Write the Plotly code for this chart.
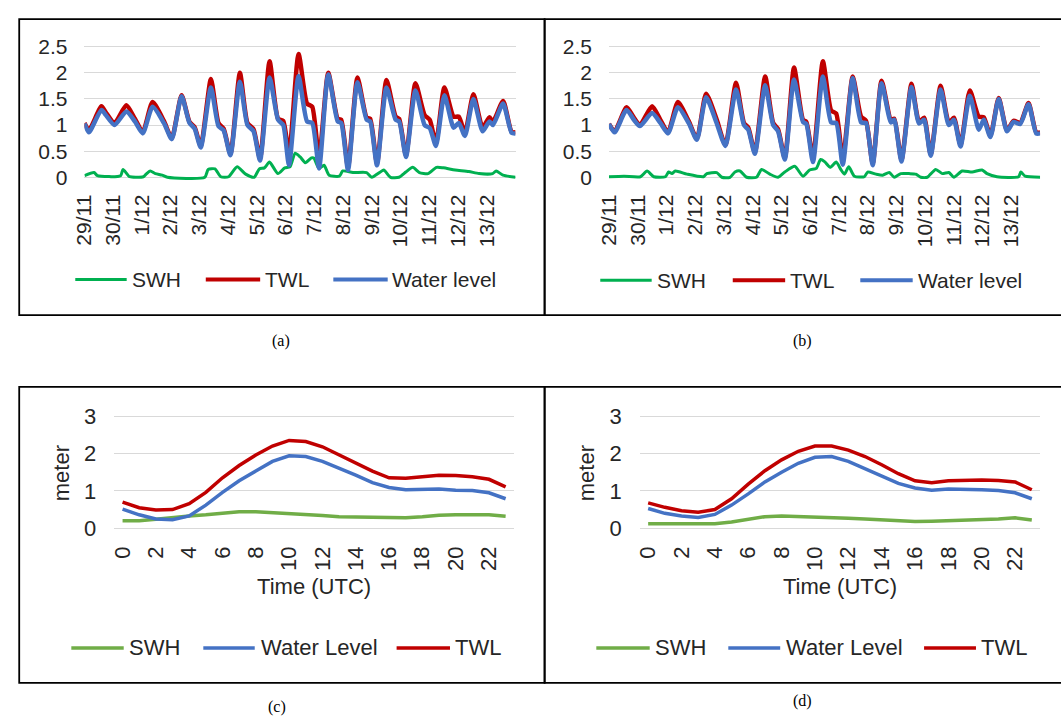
import plotly.graph_objects as go

W, H = 1061, 728

# ---------------- data ----------------
day_labels = ["29/11", "30/11", "1/12", "2/12", "3/12", "4/12", "5/12", "6/12",
              "7/12", "8/12", "9/12", "10/12", "11/12", "12/12", "13/12"]

# panel (a): hours since 29/11 00:00
a_hours = [0, 3.7, 14.2, 17.9, 25.1, 35.0, 42.1, 48.7, 56.9, 66.3,
           72.9, 81.1, 87.7, 92.0, 97.1, 105.6, 111.9, 116.2, 121.9, 129.8,
           136.1, 141.2, 146.6, 154.6, 161.7, 166.0, 170.8, 178.8, 185.9, 190.2,
           195.9, 203.6, 211.5, 214.4, 220.1, 228.0, 235.7, 238.6, 244.3, 252.2,
           259.9, 262.8, 268.5, 276.4, 284.1, 288.4, 293.5, 300.6, 308.3, 312.6,
           317.7, 324.8, 332.5, 338.2, 341.1, 349.6, 356.7, 360.0]
a_wl = [1.03, 0.86, 1.29, 1.19, 1.0, 1.26, 1.07, 0.84, 1.35, 1.04,
        0.73, 1.55, 1.04, 0.93, 0.57, 1.72, 0.98, 0.9, 0.42, 1.83,
        1.0, 0.88, 0.32, 1.91, 1.1, 1.0, 0.23, 1.94, 1.07, 1.04,
        0.17, 1.97, 1.07, 1.04, 0.14, 1.82, 1.1, 1.07, 0.23, 1.72,
        1.1, 1.07, 0.39, 1.66, 1.0, 0.94, 0.6, 1.57, 0.95, 1.04,
        0.79, 1.5, 0.88, 1.07, 1.0, 1.41, 0.85, 0.84]
a_twl = [1.04, 0.9, 1.36, 1.24, 1.04, 1.38, 1.12, 0.87, 1.44, 1.08,
         0.75, 1.57, 1.06, 0.96, 0.6, 1.88, 1.04, 0.93, 0.45, 2.0,
         1.04, 0.92, 0.36, 2.22, 1.12, 1.08, 0.45, 2.36, 1.41, 1.35,
         0.38, 2.0, 1.12, 1.1, 0.2, 1.91, 1.14, 1.12, 0.27, 1.86,
         1.16, 1.12, 0.42, 1.8, 1.19, 1.1, 0.65, 1.72, 1.16, 1.16,
         0.85, 1.59, 0.95, 1.15, 1.06, 1.46, 0.87, 0.86]
a_swh_hours = [0, 8.0, 10.8, 30.2, 32.2, 37.8, 49.2, 51.5, 54.9, 59.2,
               64.9, 69.2, 100.5, 103.3, 109.0, 113.8, 120.4, 127.5, 134.6, 141.7,
               146.0, 150.3, 154.5, 161.6, 167.3, 171.6, 175.9, 180.1, 184.4, 189.5,
               191.5, 195.8, 200.1, 204.3, 212.9, 215.7, 224.2, 235.6, 239.9, 247.0,
               249.9, 255.5, 262.7, 268.4, 274.1, 279.7, 286.9, 294.0, 299.7, 309.6,
               321.0, 329.5, 340.9, 343.8, 349.5, 360.0]
a_swh = [0.03, 0.09, 0.03, 0.03, 0.15, 0.01, 0.01, 0.06, 0.12, 0.07,
         0.04, 0.0, 0.0, 0.15, 0.16, 0.01, 0.01, 0.2, 0.06, 0.0,
         0.16, 0.18, 0.29, 0.07, 0.18, 0.2, 0.46, 0.39, 0.28, 0.37,
         0.37, 0.17, 0.23, 0.04, 0.02, 0.12, 0.09, 0.09, 0.0, 0.1,
         0.14, 0.0, 0.0, 0.1, 0.19, 0.09, 0.07, 0.19, 0.18, 0.14,
         0.11, 0.07, 0.07, 0.12, 0.04, 0.0]

# panel (b)
b_hours = [0, 4.7, 14.7, 20.8, 25.8, 36.0, 42.9, 49.3, 57.6, 66.5,
           73.4, 81.1, 90.0, 97.2, 106.1, 112.7, 116.3, 121.8, 130.4, 137.1,
           141.2, 146.8, 154.5, 162.0, 164.8, 170.3, 178.6, 185.5, 189.7, 195.2,
           203.5, 210.5, 214.6, 220.2, 227.6, 235.4, 238.2, 244.2, 252.6, 258.9,
           263.1, 268.6, 276.9, 283.8, 288.0, 293.5, 301.3, 308.8, 312.9, 318.5,
           325.4, 332.3, 337.8, 343.4, 350.3, 356.7, 360.0]
b_wl = [1.02, 0.86, 1.29, 1.1, 0.98, 1.23, 1.04, 0.84, 1.34, 1.04,
        0.72, 1.53, 1.03, 0.6, 1.68, 1.0, 0.91, 0.45, 1.76, 1.0,
        0.88, 0.34, 1.87, 1.06, 1.02, 0.29, 1.93, 1.05, 1.04, 0.24,
        1.9, 1.05, 1.04, 0.23, 1.8, 1.05, 1.1, 0.3, 1.73, 1.03,
        1.1, 0.41, 1.68, 1.0, 1.1, 0.59, 1.56, 0.91, 1.1, 0.77,
        1.5, 0.88, 1.06, 1.02, 1.4, 0.84, 0.84]
b_twl = [1.02, 0.88, 1.34, 1.14, 1.0, 1.36, 1.1, 0.86, 1.44, 1.08,
         0.74, 1.6, 1.1, 0.62, 1.81, 1.04, 0.95, 0.48, 1.93, 1.04,
         0.92, 0.37, 2.1, 1.1, 1.06, 0.38, 2.22, 1.28, 1.22, 0.35,
         1.93, 1.16, 1.08, 0.26, 1.85, 1.1, 1.12, 0.33, 1.79, 1.06,
         1.14, 0.44, 1.75, 1.04, 1.14, 0.62, 1.66, 1.16, 1.15, 0.8,
         1.52, 0.9, 1.08, 1.04, 1.42, 0.86, 0.86]
b_swh_hours = [0, 12.5, 26.3, 31.8, 37.4, 47.1, 49.8, 52.6, 55.4, 65.1,
               78.9, 81.7, 90.0, 94.2, 101.1, 105.2, 109.4, 114.9, 123.2, 127.4,
               134.3, 141.2, 146.8, 155.1, 162.0, 167.5, 173.1, 176.7, 180.0, 184.7,
               189.7, 193.8, 196.6, 200.2, 204.9, 213.2, 216.0, 222.9, 228.5, 234.0,
               238.2, 243.7, 250.6, 256.2, 260.3, 265.8, 272.8, 278.3, 283.8, 288.0,
               294.9, 303.2, 311.5, 315.7, 324.0, 342.0, 343.9, 347.5, 360.0]
b_swh = [0.01, 0.02, 0.01, 0.12, 0.01, 0.01, 0.1, 0.07, 0.12, 0.06,
         0.01, 0.07, 0.09, 0.0, 0.0, 0.1, 0.12, 0.0, 0.0, 0.15,
         0.06, 0.0, 0.1, 0.21, 0.02, 0.14, 0.17, 0.34, 0.3, 0.19,
         0.29, 0.14, 0.06, 0.2, 0.02, 0.01, 0.1, 0.06, 0.04, 0.09,
         0.0, 0.07, 0.07, 0.06, 0.0, 0.0, 0.15, 0.07, 0.09, 0.0,
         0.12, 0.1, 0.14, 0.07, 0.01, 0.01, 0.1, 0.02, 0.0]

# panels (c) and (d): hourly, 0..23 UTC
utc_hours = list(range(24))
utc_tick_labels = ["0", "2", "4", "6", "8", "10", "12", "14", "16", "18", "20", "22"]
c_swh = [0.2, 0.2, 0.24, 0.29, 0.33, 0.36, 0.4, 0.44, 0.44, 0.42, 0.4, 0.37,
         0.34, 0.31, 0.3, 0.28, 0.27, 0.28, 0.31, 0.35, 0.36, 0.36, 0.36, 0.32]
c_wl = [0.51, 0.36, 0.25, 0.23, 0.33, 0.62, 0.96, 1.27, 1.53, 1.79, 1.94, 1.92,
        1.79, 1.61, 1.42, 1.22, 1.09, 1.03, 1.05, 1.05, 1.02, 1.01, 0.95, 0.79]
c_twl = [0.7, 0.55, 0.49, 0.5, 0.66, 0.96, 1.35, 1.68, 1.96, 2.2, 2.35, 2.32,
         2.18, 1.96, 1.74, 1.53, 1.35, 1.34, 1.38, 1.42, 1.41, 1.38, 1.31, 1.11]
d_swh = [0.12, 0.12, 0.12, 0.12, 0.12, 0.17, 0.24, 0.31, 0.33, 0.32, 0.3, 0.29,
         0.27, 0.25, 0.23, 0.2, 0.18, 0.19, 0.2, 0.23, 0.24, 0.25, 0.28, 0.22]
d_wl = [0.53, 0.4, 0.33, 0.29, 0.37, 0.62, 0.92, 1.24, 1.5, 1.74, 1.9, 1.92,
        1.79, 1.6, 1.4, 1.2, 1.08, 1.02, 1.05, 1.05, 1.03, 1.01, 0.95, 0.79]
d_twl = [0.68, 0.56, 0.47, 0.43, 0.5, 0.79, 1.18, 1.54, 1.83, 2.06, 2.2, 2.2,
         2.09, 1.92, 1.7, 1.46, 1.27, 1.22, 1.27, 1.29, 1.29, 1.28, 1.24, 1.03]

# ---------------- styles ----------------
GREEN_TOP = "#00B050"
GREEN_BOT = "#70AD47"
RED = "#C00000"
BLUE = "#4472C4"
GRID = "#D9D9D9"
TXT = "#262626"
FONT = "Liberation Sans, Arial, sans-serif"
TOP_FS = 21
BOT_FS = 22


def px(x):
    return x / W


def py(y):
    return 1 - y / H


fig = go.Figure()

spl = dict(shape="spline", smoothing=0.6)
# (a)
fig.add_trace(go.Scatter(x=a_swh_hours, y=a_swh, name="SWH", xaxis="x", yaxis="y",
                         mode="lines", line=dict(color=GREEN_TOP, width=3, **spl)))
fig.add_trace(go.Scatter(x=a_hours, y=a_twl, name="TWL", xaxis="x", yaxis="y",
                         mode="lines", line=dict(color=RED, width=4.5, **spl)))
fig.add_trace(go.Scatter(x=a_hours, y=a_wl, name="Water level", xaxis="x", yaxis="y",
                         mode="lines", line=dict(color=BLUE, width=4.5, **spl)))
# (b)
fig.add_trace(go.Scatter(x=b_swh_hours, y=b_swh, name="SWH", xaxis="x2", yaxis="y2",
                         mode="lines", line=dict(color=GREEN_TOP, width=3, **spl)))
fig.add_trace(go.Scatter(x=b_hours, y=b_twl, name="TWL", xaxis="x2", yaxis="y2",
                         mode="lines", line=dict(color=RED, width=4.5, **spl)))
fig.add_trace(go.Scatter(x=b_hours, y=b_wl, name="Water level", xaxis="x2", yaxis="y2",
                         mode="lines", line=dict(color=BLUE, width=4.5, **spl)))
# (c)
fig.add_trace(go.Scatter(x=utc_hours, y=c_swh, name="SWH", xaxis="x3", yaxis="y3",
                         mode="lines", line=dict(color=GREEN_BOT, width=3.5)))
fig.add_trace(go.Scatter(x=utc_hours, y=c_wl, name="Water Level", xaxis="x3", yaxis="y3",
                         mode="lines", line=dict(color=BLUE, width=3.5)))
fig.add_trace(go.Scatter(x=utc_hours, y=c_twl, name="TWL", xaxis="x3", yaxis="y3",
                         mode="lines", line=dict(color=RED, width=3.5)))
# (d)
fig.add_trace(go.Scatter(x=utc_hours, y=d_swh, name="SWH", xaxis="x4", yaxis="y4",
                         mode="lines", line=dict(color=GREEN_BOT, width=3.5)))
fig.add_trace(go.Scatter(x=utc_hours, y=d_wl, name="Water Level", xaxis="x4", yaxis="y4",
                         mode="lines", line=dict(color=BLUE, width=3.5)))
fig.add_trace(go.Scatter(x=utc_hours, y=d_twl, name="TWL", xaxis="x4", yaxis="y4",
                         mode="lines", line=dict(color=RED, width=3.5)))

# ---------------- axes ----------------
TOP_Y = (35.0, 177.1)      # px top/bottom of upper plot areas
BOT_Y = (415.1, 536.0)     # px top/bottom of lower plot areas
top_tickfont = dict(family=FONT, size=TOP_FS, color=TXT)
bot_tickfont = dict(family=FONT, size=BOT_FS, color=TXT)
day_ticks = [i * 24 for i in range(len(day_labels))]


def xa_top(x0, x1, anchor):
    return dict(domain=[px(x0), px(x1)], anchor=anchor, range=[0, 360],
                tickvals=day_ticks, ticktext=day_labels, tickangle=-90,
                showgrid=False, zeroline=False, showline=False, ticks="",
                tickfont=top_tickfont, ticklabelstandoff=7)


def ya_top(anchor):
    return dict(domain=[py(TOP_Y[1]), py(TOP_Y[0])], anchor=anchor, range=[-0.1, 2.55],
                tick0=0, dtick=0.5, showgrid=True, gridcolor=GRID, gridwidth=1.3,
                zeroline=True, zerolinecolor=GRID, zerolinewidth=1.3, showline=False, ticks="",
                tickfont=top_tickfont, ticklabelstandoff=16)


def xa_bot(x0, x1, anchor):
    return dict(domain=[px(x0), px(x1)], anchor=anchor, range=[-0.5, 23.5],
                tickvals=[int(t) for t in utc_tick_labels], ticktext=utc_tick_labels, tickangle=-90,
                showgrid=False, zeroline=False, showline=False, ticks="",
                tickfont=bot_tickfont, ticklabelstandoff=9,
                title=dict(text="Time (UTC)", font=dict(family=FONT, size=BOT_FS, color=TXT), standoff=8))


def ya_bot(anchor):
    return dict(domain=[py(BOT_Y[1]), py(BOT_Y[0])], anchor=anchor, range=[-0.1, 3.05],
                tick0=0, dtick=1, showgrid=True, gridcolor=GRID, gridwidth=1.3,
                zeroline=True, zerolinecolor=GRID, zerolinewidth=1.3, showline=False, ticks="",
                tickfont=bot_tickfont, ticklabelstandoff=17,
                title=dict(text="meter", font=dict(family=FONT, size=BOT_FS, color=TXT), standoff=8))


fig.update_layout(
    width=W, height=H, autosize=False,
    margin=dict(l=0, r=0, t=0, b=0),
    paper_bgcolor="white", plot_bgcolor="white",
    showlegend=False,
    font=dict(family=FONT, color=TXT),
    xaxis=xa_top(73.3, 509.3, "y"), yaxis=ya_top("x"),
    xaxis2=xa_top(603.8, 1039.9, "y2"), yaxis2=ya_top("x2"),
    xaxis3=xa_bot(103.4, 507.7, "y3"), yaxis3=ya_bot("x3"),
    xaxis4=xa_bot(635.0, 1039.9, "y4"), yaxis4=ya_bot("x4"),
)

# ---------------- frames ----------------
shapes = []
for (x0, y0, x1, y1) in [(7.3, 9.3, 538.7, 313.3), (538.7, 9.3, 1063, 313.3),
                         (7.3, 387, 538.7, 691), (538.7, 387, 1063, 691)]:
    shapes.append(dict(type="rect", xref="paper", yref="paper",
                       x0=px(x0), x1=px(x1), y0=py(y1), y1=py(y0),
                       line=dict(color="black", width=1.8), fillcolor="rgba(0,0,0,0)", layer="above"))

# ---------------- legends (manual, per panel) ----------------
annotations = []
legend_specs = [
    # (y, [(line_x0, line_x1, text_x, label, color, width)], fontsize)
    (276.7, [(64, 116, 120, "SWH", GREEN_TOP, 3), (196, 251, 254.5, "TWL", RED, 4),
             (325, 380, 383, "Water level", BLUE, 4)], TOP_FS),
    (277.5, [(595, 647, 651, "SWH", GREEN_TOP, 3), (729, 782, 786, "TWL", RED, 4),
             (858, 911, 915, "Water level", BLUE, 4)], TOP_FS),
    (655, [(60, 113, 117, "SWH", GREEN_BOT, 3.5), (193.5, 245.5, 250.5, "Water Level", BLUE, 3.5),
           (389, 443, 447.5, "TWL", RED, 3.5)], BOT_FS),
    (655, [(591, 645, 649, "SWH", GREEN_BOT, 3.5), (724.5, 777, 782, "Water Level", BLUE, 3.5),
           (922.5, 975, 979.5, "TWL", RED, 3.5)], BOT_FS),
]
for (ly, items, fs) in legend_specs:
    for (lx0, lx1, tx, label, color, lw) in items:
        shapes.append(dict(type="line", xref="paper", yref="paper",
                           x0=px(lx0), x1=px(lx1), y0=py(ly), y1=py(ly),
                           line=dict(color=color, width=lw)))
        annotations.append(dict(xref="paper", yref="paper", x=px(tx), y=py(ly),
                                xanchor="left", yanchor="middle", text=label, showarrow=False,
                                font=dict(family=FONT, size=fs, color=TXT), borderpad=0))

# ---------------- captions ----------------
for (cx, cy, t) in [(272, 340, "(a)"), (800, 340, "(b)"), (268, 716, "(c)"), (800, 710, "(d)")]:
    annotations.append(dict(xref="paper", yref="paper", x=px(cx), y=py(cy),
                            xanchor="center", yanchor="middle", text=t, showarrow=False,
                            font=dict(family="Liberation Serif, Times New Roman, serif", size=16, color="black")))

fig.update_layout(shapes=shapes, annotations=annotations)

fig.write_html("out.html",
               post_script="document.body.style.margin='0px';"
                           "document.documentElement.style.overflow='hidden';")
